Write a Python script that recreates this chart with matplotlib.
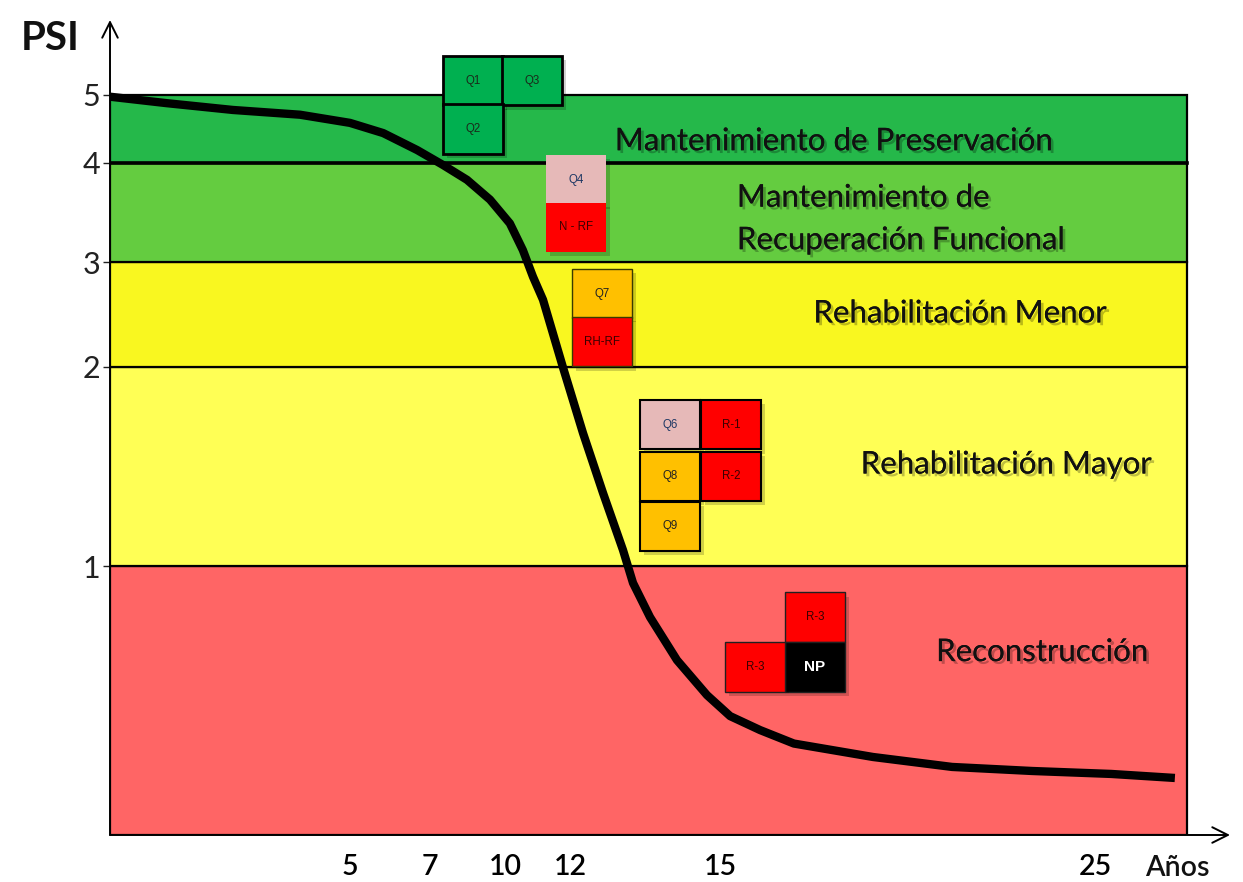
import numpy as np
import matplotlib
matplotlib.use("Agg")
import matplotlib.pyplot as plt
from matplotlib.patches import Rectangle
from matplotlib.offsetbox import DrawingArea, AnnotationBbox
from matplotlib.text import Text
import matplotlib.patheffects as pe

# ---------------- data ----------------
# axis scale knots (value -> relative position), as drawn in the reference
x_knots = [0, 5, 7, 10, 12, 15, 25, 30]
x_pos = [0, 240, 320, 395, 460, 610, 985, 1172.5]
y_knots = [0, 1, 2, 3, 4, 5, 6, 7]
y_pos = [0, 269, 468, 573, 672, 740, 808, 876]

x_ticks = [5, 7, 10, 12, 15, 25]
x_tick_labels = ["5", "7", "10", "12", "15", "25"]
y_ticks = [1, 2, 3, 4, 5]
y_tick_labels = ["1", "2", "3", "4", "5"]

# PSI deterioration curve
years = [0.0, 1.18, 2.56, 3.96, 5.0, 5.83, 6.68, 7.52, 8.48, 9.4, 10.15,
         10.55, 10.86, 11.17, 11.78, 12.26, 12.66, 13.06, 13.26, 13.6,
         14.14, 14.74, 15.27, 16.07, 16.97, 19.08, 21.19, 23.32, 25.43, 27.13]
psi = [4.975, 4.88, 4.78, 4.71, 4.59, 4.44, 4.19, 3.98, 3.83, 3.63, 3.39,
       3.12, 2.86, 2.64, 2.0, 1.668, 1.367, 1.08, 0.937, 0.81,
       0.65, 0.52, 0.442, 0.39, 0.34, 0.29, 0.253, 0.238, 0.227, 0.212]

# bands
band_low = [0, 1, 2, 3, 4]
band_high = [1, 2, 3, 4, 5]
band_colors = ["#ff6565", "#ffff55", "#f9f720", "#64cc40", "#25b84a"]
band_end = 27.45

band_labels = ["Mantenimiento de Preservación", "Mantenimiento de",
               "Recuperación Funcional", "Rehabilitación Menor",
               "Rehabilitación Mayor", "Reconstrucción"]
band_label_x = [18.04, 15.45, 15.45, 21.4, 22.63, 23.59]
band_label_y = [4.32, 3.65, 3.22, 2.51, 1.51, 0.68]
band_label_ha = ["center", "left", "left", "center", "center", "center"]

# intervention boxes
box_labels = ["Q1", "Q3", "Q2", "Q4", "N - RF", "Q7", "RH-RF", "Q6", "R-1",
              "Q8", "R-2", "Q9", "R-3", "NP", "R-3"]
box_x = [8.72, 10.83, 8.72, 12.12, 12.12, 12.64, 12.64, 14.0, 15.29,
         14.0, 15.29, 14.0, 17.53, 17.53, 15.93]
box_y = [5.21, 5.21, 4.5, 3.83, 3.35, 2.70, 2.24, 1.71, 1.71,
         1.45, 1.45, 1.20, 0.81, 0.625, 0.625]
box_colors = ["#00b050", "#00b050", "#00b050", "#e6b9b8", "#ff0000",
              "#ffc000", "#ff0000", "#e6b9b8", "#ff0000", "#ffc000",
              "#ff0000", "#ffc000", "#ff0000", "#000000", "#ff0000"]
box_edge = ["#000000"] * 3 + ["none"] * 2 + ["#3a3a00"] * 2 + ["#000000"] * 5 + ["#202020"] * 3
box_lw = [2.0] * 3 + [0] * 2 + [1.0] * 2 + [1.5] * 5 + [1.0] * 3
box_text_color = ["#1a2a1a"] * 3 + ["#1f3864", "#3a0000", "#222222", "#3a0000",
                  "#1f3864", "#3a0000", "#222222", "#3a0000", "#222222",
                  "#3a0000", "#ffffff", "#3a0000"]

# ---------------- scales ----------------
def fx(v):
    return np.interp(v, x_knots, x_pos)

def fx_inv(p):
    return np.interp(p, x_pos, x_knots)

def fy(v):
    return np.interp(v, y_knots, y_pos)

def fy_inv(p):
    return np.interp(p, y_pos, y_knots)

plt.rcParams['font.family'] = ['Lato', 'DejaVu Sans']

W, H = 1243, 882
fig = plt.figure(figsize=(W / 100, H / 100), dpi=100)
left, right, bottom, top = 110 / W, 1230 / W, (H - 835) / H, (H - 20) / H
ax = fig.add_axes([left, bottom, right - left, top - bottom])
ax.set_xscale('function', functions=(fx, fx_inv))
ax.set_yscale('function', functions=(fy, fy_inv))
ax.set_xlim(0, fx_inv(1120))
ax.set_ylim(0, fy_inv(815))
for s in ax.spines.values():
    s.set_visible(False)
ax.patch.set_alpha(0)

# bands
for lo, hi, c in zip(band_low, band_high, band_colors):
    ax.barh(lo, band_end, height=hi - lo, left=0, align='edge', color=c,
            edgecolor='black', linewidth=1.6, zorder=1)
ax.plot([0, band_end], [4, 4], color='black', lw=2.6, zorder=1.5)

# curve
ax.plot(years, psi, color='black', lw=6, solid_capstyle='butt',
        solid_joinstyle='round', zorder=3)

# band labels
shadow = [pe.withSimplePatchShadow(offset=(2, -2), shadow_rgbFace='#000000', alpha=0.25),
          pe.Normal()]
for t, x, y, ha in zip(band_labels, band_label_x, band_label_y, band_label_ha):
    ax.text(x, y, t, ha=ha, va='center', fontsize=22.5, color='#111111',
            path_effects=shadow, zorder=4)

# boxes
bw, bh = 43.5, 35.5
for lab, x, y, fc, ec, lw, tc in zip(box_labels, box_x, box_y, box_colors,
                                     box_edge, box_lw, box_text_color):
    da = DrawingArea(bw, bh, 0, 0, clip=False)
    da.add_artist(Rectangle((3, -3), bw, bh, fc='#000000', ec='none', alpha=0.18))
    da.add_artist(Rectangle((0, 0), bw, bh, fc=fc, ec=ec, lw=lw))
    bold = lab == "NP"
    da.add_artist(Text(bw / 2, bh / 2, lab, ha='center', va='center',
                       fontsize=11 if bold else 8.3,
                       fontweight='bold' if bold else 'normal', color=tc,
                       family=['Liberation Sans', 'DejaVu Sans']))
    ab = AnnotationBbox(da, (x, y), xycoords='data', box_alignment=(0.5, 0.5),
                        frameon=False, pad=0, zorder=5, annotation_clip=False)
    ax.add_artist(ab)

# ticks
ax.set_yticks(y_ticks)
ax.set_yticklabels(y_tick_labels, fontsize=22)
ax.tick_params(axis='y', length=5, width=1, direction='out', pad=2, colors='#222222')
ax.set_xticks(x_ticks)
ax.set_xticklabels(x_tick_labels, fontsize=20.5, fontweight='semibold')
ax.tick_params(axis='x', length=0, pad=14)
ax.minorticks_off()

# axes with arrows
ax.annotate('', xy=(0, 1.0), xytext=(0, 0), xycoords='axes fraction',
            arrowprops=dict(arrowstyle='->', lw=1.4, color='black',
                            mutation_scale=28, shrinkA=0, shrinkB=0),
            annotation_clip=False, zorder=6)
ax.annotate('', xy=(1.0, 0), xytext=(0, 0), xycoords='axes fraction',
            arrowprops=dict(arrowstyle='->', lw=1.4, color='black',
                            mutation_scale=28, shrinkA=0, shrinkB=0),
            annotation_clip=False, zorder=6)

fig.text(50 / W, 1 - 38 / H, "PSI", ha='center', va='center', fontsize=29,
         fontweight='bold', color='#111111')
fig.text(1177 / W, 1 - 868 / H, "Años", ha='center', va='center', fontsize=20.5,
         fontweight='semibold', color='#111111')

fig.savefig("out.png", dpi=100)
